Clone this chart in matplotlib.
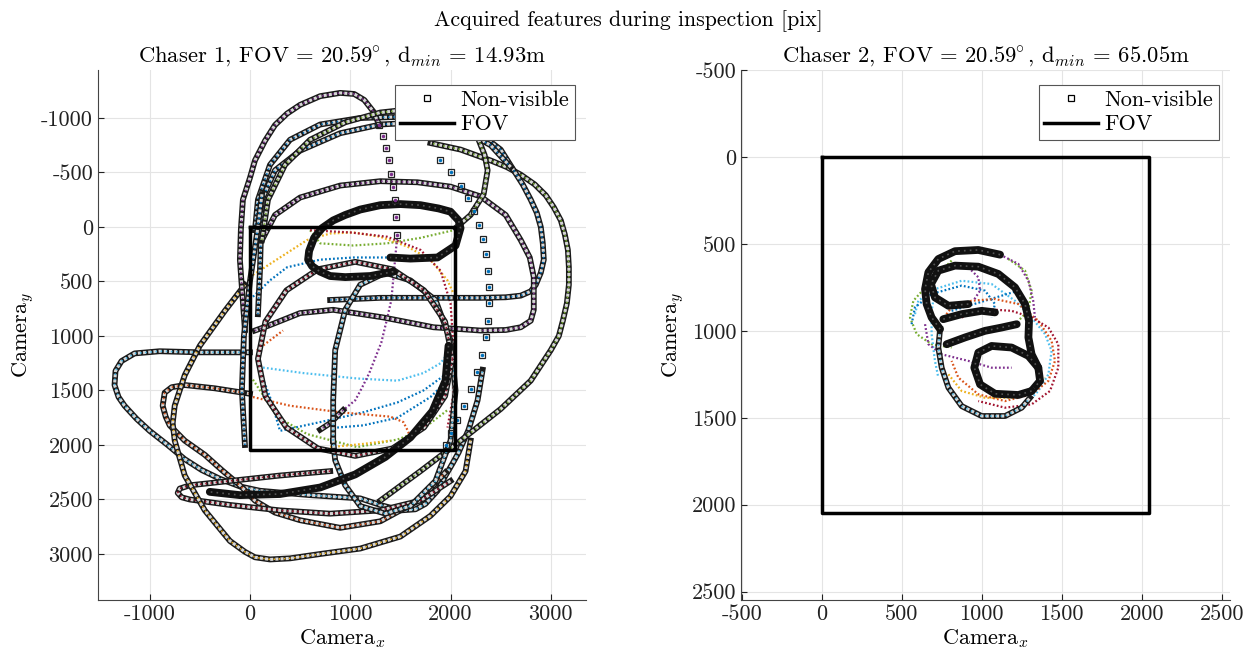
import numpy as np
import matplotlib.pyplot as plt
from matplotlib.lines import Line2D
from matplotlib.ticker import FuncFormatter

plt.rcParams['font.family'] = 'cmr10'
plt.rcParams['mathtext.fontset'] = 'cm'
plt.rcParams['axes.unicode_minus'] = False

# matlab default colour order
blue = '#0072BD'
orange = '#D95319'
yellow = '#EDB120'
purple = '#7E2F8E'
green = '#77AC30'
lblue = '#4DBEEE'
red = '#A2142F'

# camera frame (pixels)
fov_x = [0, 2048, 2048, 0, 0]
fov_y = [0, 0, 2048, 2048, 0]

# ---------------- chaser 1: non-visible tracks ----------------
c1_lblue_x = [0, -500, -900, -1150, -1280, -1340, -1350, -1310, -1250, -1130, -1000, -820, -650, -480, -300, -100, 100, 350, 600, 850, 1100, 1300, 1500, 1650, 1750, 1870, 1950, 2020, 2080, 2180, 2270, 2320]
c1_lblue_y = [1150, 1150, 1140, 1160, 1230, 1320, 1450, 1560, 1640, 1760, 1870, 2000, 2130, 2230, 2310, 2380, 2420, 2440, 2460, 2475, 2490, 2550, 2600, 2590, 2540, 2420, 2280, 2170, 2070, 1860, 1590, 1310]

c1_orange_x = [0, -350, -650, -780, -850, -870, -840, -800, -650, -450, -280, -100, 50, 250, 500, 900, 1300, 1700, 1950]
c1_orange_y = [1530, 1480, 1450, 1470, 1520, 1640, 1740, 1820, 1960, 2090, 2230, 2370, 2510, 2620, 2690, 2760, 2700, 2500, 2250]

c1_red_x = [800, 300, -200, -600, -700, -720, -680, -600, -200, 300, 800, 1300, 1700, 2000]
c1_red_y = [2240, 2280, 2330, 2370, 2400, 2440, 2480, 2500, 2550, 2600, 2630, 2600, 2510, 2330]

c1_yellow_x = [-50, -250, -500, -650, -750, -770, -750, -650, -450, -200, -50, 50, 200, 400, 700, 1100, 1500, 1800, 2000, 2150, 2200]
c1_yellow_y = [530, 770, 1090, 1360, 1640, 1800, 1960, 2280, 2600, 2880, 2980, 3030, 3050, 3040, 3000, 2950, 2840, 2650, 2470, 2240, 1960]

c1_green_x = [1300, 1700, 2100, 2500, 2800, 3000, 3080, 3120, 3160, 3180, 3180, 3170, 3140, 3100, 3030, 2950, 2840, 2700, 2560, 2400, 2100, 1800]
c1_green_y = [2510, 2240, 1960, 1670, 1410, 1130, 1000, 860, 700, 530, 370, 210, 70, -60, -180, -290, -390, -480, -550, -610, -710, -770]

c1_lblue2_x = [800, 1300, 1800, 2300, 2550, 2700, 2800, 2850, 2900, 2930, 2920, 2900, 2860, 2800, 2720, 2630, 2500, 2330, 2100, 1830, 1500, 1100, 700, 400, 200, 80, 50]
c1_lblue2_y = [670, 650, 650, 650, 645, 630, 590, 530, 420, 300, 150, 0, -130, -250, -390, -520, -710, -830, -920, -980, -1010, -1000, -940, -800, -570, -250, 30]

c1_blue2_x = [80, 100, 120, 250, 500, 900, 1300, 1700, 2100, 2400, 2600]
c1_blue2_y = [800, 400, -250, -520, -700, -860, -940, -960, -900, -750, -550]

c1_purple_x = [-50, -100, -90, -70, 0, 50, 150, 250, 370, 500, 700, 900, 1040, 1140, 1230, 1290]
c1_purple_y = [945, 300, 20, -250, -450, -610, -790, -935, -1040, -1120, -1200, -1230, -1220, -1165, -1060, -935]
c1_purple_sp_x = [1290, 1330, 1360, 1390, 1410, 1430, 1450, 1460, 1470]
c1_purple_sp_y = [-935, -830, -720, -610, -490, -370, -250, -90, 70]
c1_purple_vis_x = [1470, 1440, 1410, 1360, 1310, 1250, 1190, 1120, 1050, 930]
c1_purple_vis_y = [70, 370, 670, 870, 1060, 1200, 1340, 1470, 1590, 1680]
c1_purple2_x = [930, 800, 700]
c1_purple2_y = [1680, 1800, 1860]

c1_purple3_x = [50, 200, 500, 830, 1330, 1830, 2300, 2550, 2700, 2800, 2830, 2830, 2790, 2700, 2550, 2300, 2000, 1670, 1300, 900, 500, 250, 120]
c1_purple3_y = [950, 900, 790, 760, 830, 920, 950, 945, 920, 860, 760, 460, 280, 120, -110, -280, -370, -410, -420, -380, -270, -110, 120]

c1_green2_x = [120, 180, 350, 600, 950, 1300, 1700, 2050, 2200, 2280, 2340, 2370, 2330, 2200, 2050]
c1_green2_y = [120, -250, -570, -800, -960, -1050, -1090, -1030, -930, -800, -660, -520, -300, -110, 10]

c1_blue_sp_x = [1900, 2000, 2100, 2170, 2230, 2280, 2320, 2350, 2370, 2380, 2380, 2370, 2350, 2310, 2260, 2200, 2130, 2060, 2000, 1950]
c1_blue_sp_y = [-610, -500, -380, -270, -150, -20, 110, 250, 400, 550, 700, 860, 1010, 1170, 1330, 1490, 1640, 1770, 1890, 2000]

c1_loop_x = [1430, 1200, 950, 800, 700, 620, 580, 590, 640, 720, 830, 950, 1100, 1300, 1500, 1700, 1880, 2000, 2080, 2100, 2050, 1870, 1600, 1400]
c1_loop_y = [410, 450, 460, 450, 410, 360, 300, 220, 100, 10, -60, -110, -160, -200, -210, -200, -170, -140, -60, 10, 170, 280, 290, 280]

c1_circ_x = [2020, 1946, 1736, 1421, 1050, 679, 364, 154, 80, 154, 364, 679, 1050, 1421, 1736, 1946, 2020]
c1_circ_y = [1210, 869, 581, 388, 320, 388, 581, 869, 1210, 1551, 1839, 2032, 2100, 2032, 1839, 1551, 1210]

c1_ell_x = [830, 830, 850, 950, 1100, 1350, 1600, 1850, 2000, 2050, 2000, 1850, 1600, 1350, 1100, 950, 850, 830]
c1_ell_y = [1960, 1590, 1130, 760, 530, 420, 490, 670, 1040, 1500, 1960, 2330, 2560, 2630, 2560, 2370, 2140, 1960]

c1_arc_x = [1980, 1950, 1820, 1600, 1350, 1050, 700, 300, -100, -400]
c1_arc_y = [1090, 1410, 1690, 1930, 2110, 2270, 2390, 2450, 2460, 2430]

c1_edge_x = [-50, -80, -60, 0, 80, 120]
c1_edge_y = [2000, 1500, 1000, 500, 0, -300]

# ---------------- chaser 1: visible tracks ----------------
c1v_green_x = [600, 700, 1030, 1370, 1700, 2030]
c1v_green_y = [30, 150, 170, 150, 100, 30]
c1v_yellow_x = [30, 300, 570, 800, 1030, 1300, 1570, 1800, 1970, 2030]
c1v_yellow_y = [440, 280, 120, 60, 50, 90, 180, 300, 490, 610]
c1v_red_x = [600, 1000, 1370, 1700, 1900, 2000, 2030, 2030, 1970]
c1v_red_y = [30, 50, 90, 210, 400, 700, 1100, 1530, 1840]
c1v_blue_x = [30, 200, 370, 700, 1030, 1400]
c1v_blue_y = [640, 490, 370, 300, 280, 280]
c1v_blue2_x = [70, 200, 300, 800, 1130, 1470, 1730, 1970]
c1v_blue2_y = [1250, 1560, 1870, 1770, 1700, 1610, 1500, 1340]
c1v_blue3_x = [870, 1130, 1470, 1800, 2000]
c1v_blue3_y = [1840, 1820, 1750, 1560, 1380]
c1v_lblue_x = [1400, 1670, 1900, 2000, 1970]
c1v_lblue_y = [420, 550, 760, 1070, 1310]
c1v_lblue2_x = [130, 530, 1070, 1470, 1730, 1900, 2000]
c1v_lblue2_y = [1290, 1340, 1390, 1410, 1340, 1250, 1130]
c1v_orange_x = [30, 400, 900, 1400, 1530, 1580, 1580]
c1v_orange_y = [1560, 1640, 1700, 1740, 1790, 1880, 1960]
c1v_orange2_x = [70, 200, 330]
c1v_orange2_y = [1130, 1040, 950]
c1v_purple_x = [100, 330, 500]
c1v_purple_y = [950, 860, 790]
c1v_green2_x = [30, 270, 570, 1070, 1470, 1700, 1970]
c1v_green2_y = [1400, 1740, 1900, 2020, 1950, 1870, 1680]
c1v_yellow2_x = [800, 1130, 1400]
c1v_yellow2_y = [2020, 1990, 1960]

# ---------------- chaser 2: non-visible tracks ----------------
c2_a_x = [1115, 979, 833, 729, 667, 646, 656, 687, 740]
c2_a_y = [562, 535, 542, 587, 663, 760, 846, 923, 990]
c2_b_x = [917, 792, 708, 683, 729, 833, 979, 1104, 1208, 1271, 1296, 1292, 1312, 1354, 1365, 1312]
c2_b_y = [846, 856, 808, 731, 654, 625, 631, 673, 750, 846, 942, 1038, 1135, 1212, 1288, 1346]
c2_c_x = [1312, 1229, 1083, 990, 954, 979, 1062, 1187, 1292, 1354]
c2_c_y = [1346, 1369, 1362, 1308, 1212, 1125, 1087, 1096, 1144, 1212]
c2_d1_x = [781, 896, 1021, 1125, 1219]
c2_d1_y = [1077, 1038, 1000, 981, 962]
c2_d2_x = [760, 875, 1000, 1083]
c2_d2_y = [933, 904, 885, 894]
c2_e_x = [740, 729, 750, 792, 875, 1000, 1146, 1250, 1302]
c2_e_y = [990, 1096, 1212, 1327, 1433, 1490, 1490, 1442, 1385]

# ---------------- chaser 2: visible tracks ----------------
c2v_green_x = [812, 667, 573, 552, 594, 687, 812]
c2v_green_y = [596, 731, 827, 923, 1019, 1077, 1096]
c2v_green2_x = [1167, 1271, 1312, 1292, 1229]
c2v_green2_y = [587, 654, 769, 885, 942]
c2v_lblue_x = [583, 604, 708, 875, 1062, 1208, 1312, 1396, 1437, 1417, 1354, 1292]
c2v_lblue_y = [904, 827, 760, 712, 731, 827, 923, 1019, 1115, 1250, 1346, 1404]
c2v_lblue2_x = [708, 687, 687, 708, 729]
c2v_lblue2_y = [769, 885, 1019, 1173, 1269]
c2v_blue_x = [562, 583, 687, 875, 1021, 1083, 1062]
c2v_blue_y = [962, 865, 788, 740, 769, 846, 923]
c2v_blue2_x = [812, 1021, 1229]
c2v_blue2_y = [885, 827, 769]
c2v_orange_x = [750, 812, 937, 1083, 1229, 1354, 1437, 1458, 1417, 1312, 1146, 979, 854, 812]
c2v_orange_y = [942, 865, 827, 817, 846, 942, 1058, 1173, 1288, 1365, 1404, 1365, 1269, 1173]
c2v_red_x = [875, 1021, 1187, 1312, 1417, 1479, 1479, 1427, 1312, 1146, 979]
c2v_red_y = [923, 875, 885, 923, 981, 1077, 1212, 1346, 1423, 1442, 1404]
c2v_yellow_x = [792, 875, 1021, 1187, 1312, 1396]
c2v_yellow_y = [1250, 1346, 1385, 1385, 1346, 1269]
c2v_purple_x = [1115, 1229, 1292, 1322, 1333]
c2v_purple_y = [562, 615, 712, 827, 923]
c2v_purple2_x = [646, 667, 750, 917, 1062, 1187]
c2v_purple2_y = [962, 1077, 1135, 1173, 1212, 1212]
c2v_purple3_x = [917, 979, 990, 948]
c2v_purple3_y = [635, 692, 769, 827]


def hidden(ax, x, y, c, dense=False):
    if dense:
        ax.plot(x, y, color='#111111', lw=5.6, solid_joinstyle='round',
                solid_capstyle='round', zorder=3)
        ax.plot(x, y, color='#555555', lw=1.2, ls=(0, (1, 2.5)), zorder=3)
        return
    ax.plot(x, y, color='#1a1a1a', lw=4.2, solid_joinstyle='round', zorder=3)
    ax.plot(x, y, color='#d6d6d6', lw=2.2, ls=(0, (1.0, 0.7)), zorder=3)
    ax.plot(x, y, color=c, lw=1.2, ls=(0, (0.9, 2.2)), zorder=3)


def sparse(ax, x, y, c):
    ax.plot(x, y, 's', ms=5, mfc='none', mec='#222222', mew=0.9, zorder=3)
    ax.plot(x, y, '.', color=c, ms=3, zorder=3)


def visible(ax, x, y, c):
    ax.plot(x, y, color=c, lw=1.6, ls=(0, (0.8, 1.0)), zorder=2)


fig = plt.figure(figsize=(12.56, 6.66), dpi=100)
ax1 = fig.add_axes([0.078, 0.0991, 0.3885, 0.7958])
ax2 = fig.add_axes([0.590, 0.0991, 0.3893, 0.7958])

visible(ax1, c1v_green_x, c1v_green_y, green)
visible(ax1, c1v_yellow_x, c1v_yellow_y, yellow)
visible(ax1, c1v_red_x, c1v_red_y, red)
visible(ax1, c1v_blue_x, c1v_blue_y, blue)
visible(ax1, c1v_blue2_x, c1v_blue2_y, blue)
visible(ax1, c1v_blue3_x, c1v_blue3_y, blue)
visible(ax1, c1v_lblue_x, c1v_lblue_y, lblue)
visible(ax1, c1v_lblue2_x, c1v_lblue2_y, lblue)
visible(ax1, c1v_orange_x, c1v_orange_y, orange)
visible(ax1, c1v_orange2_x, c1v_orange2_y, orange)
visible(ax1, c1v_purple_x, c1v_purple_y, purple)
visible(ax1, c1v_green2_x, c1v_green2_y, green)
visible(ax1, c1v_yellow2_x, c1v_yellow2_y, yellow)
visible(ax1, c1_purple_vis_x, c1_purple_vis_y, purple)

hidden(ax1, c1_lblue_x, c1_lblue_y, lblue)
hidden(ax1, c1_orange_x, c1_orange_y, orange)
hidden(ax1, c1_red_x, c1_red_y, red)
hidden(ax1, c1_yellow_x, c1_yellow_y, yellow)
hidden(ax1, c1_green_x, c1_green_y, green)
hidden(ax1, c1_lblue2_x, c1_lblue2_y, blue)
hidden(ax1, c1_blue2_x, c1_blue2_y, blue)
hidden(ax1, c1_purple_x, c1_purple_y, purple)
hidden(ax1, c1_purple2_x, c1_purple2_y, purple)
hidden(ax1, c1_purple3_x, c1_purple3_y, purple)
hidden(ax1, c1_green2_x, c1_green2_y, green)
hidden(ax1, c1_ell_x, c1_ell_y, lblue)
hidden(ax1, c1_circ_x, c1_circ_y, red)
hidden(ax1, c1_edge_x, c1_edge_y, blue)
hidden(ax1, c1_loop_x, c1_loop_y, blue, dense=True)
hidden(ax1, c1_arc_x, c1_arc_y, orange, dense=True)
sparse(ax1, c1_purple_sp_x, c1_purple_sp_y, purple)
sparse(ax1, c1_blue_sp_x, c1_blue_sp_y, blue)

visible(ax2, c2v_green_x, c2v_green_y, green)
visible(ax2, c2v_green2_x, c2v_green2_y, green)
visible(ax2, c2v_lblue_x, c2v_lblue_y, lblue)
visible(ax2, c2v_lblue2_x, c2v_lblue2_y, lblue)
visible(ax2, c2v_blue_x, c2v_blue_y, blue)
visible(ax2, c2v_blue2_x, c2v_blue2_y, blue)
visible(ax2, c2v_orange_x, c2v_orange_y, orange)
visible(ax2, c2v_red_x, c2v_red_y, red)
visible(ax2, c2v_yellow_x, c2v_yellow_y, yellow)
visible(ax2, c2v_purple_x, c2v_purple_y, purple)
visible(ax2, c2v_purple2_x, c2v_purple2_y, purple)
visible(ax2, c2v_purple3_x, c2v_purple3_y, purple)
hidden(ax2, c2_e_x, c2_e_y, lblue)
hidden(ax2, c2_a_x, c2_a_y, green, dense=True)
hidden(ax2, c2_b_x, c2_b_y, blue, dense=True)
hidden(ax2, c2_c_x, c2_c_y, red, dense=True)
hidden(ax2, c2_d1_x, c2_d1_y, purple, dense=True)
hidden(ax2, c2_d2_x, c2_d2_y, orange, dense=True)

handles = [Line2D([], [], ls='none', marker='s', ms=5, mfc='none', mec='k', mew=0.9, label='Non-visible'),
           Line2D([], [], color='k', lw=2.5, label='FOV')]

fmt = FuncFormatter(lambda v, p: '%d' % v)

for ax, t in [(ax1, r'Chaser 1, FOV = $20.59^{\!\!\circ}$, d$_{min}$ = 14.93m'),
              (ax2, r'Chaser 2, FOV = $20.59^{\!\!\circ}$, d$_{min}$ = 65.05m')]:
    ax.plot(fov_x, fov_y, color='k', lw=2.5, zorder=4)
    ax.set_title(t, fontsize=16.3, pad=6)
    ax.set_xlabel(r'Camera$_x$', fontsize=16, labelpad=2)
    ax.set_ylabel(r'Camera$_y$', fontsize=16, labelpad=4)
    ax.grid(True, color='#e4e4e4', lw=0.8)
    ax.set_axisbelow(True)
    ax.spines['top'].set_visible(False)
    ax.spines['right'].set_visible(False)
    ax.spines['left'].set_color('#444444')
    ax.spines['bottom'].set_color('#444444')
    ax.tick_params(direction='in', length=4, labelsize=16, colors='#222222')
    ax.xaxis.set_major_formatter(fmt)
    ax.yaxis.set_major_formatter(fmt)
    leg = ax.legend(handles=handles, loc='upper right', bbox_to_anchor=(0.977, 0.972),
                    fontsize=16, fancybox=False, edgecolor='#555555', framealpha=1,
                    borderpad=0.25, labelspacing=0.22, handlelength=2.4, handletextpad=0.3,
                    borderaxespad=0)
    leg.get_frame().set_linewidth(0.8)

ax1.set_xlim(-1515, 3350)
ax1.set_ylim(3422, -1440)
ax1.set_xticks([-1000, 0, 1000, 2000, 3000])
ax1.set_yticks(np.arange(-1000, 3001, 500))

ax2.set_xlim(-504, 2552)
ax2.set_ylim(2548, -500)
ax2.set_xticks(np.arange(-500, 2501, 500))
ax2.set_yticks(np.arange(-500, 2501, 500))

fig.suptitle('Acquired features during inspection [pix]', fontsize=15.7, y=0.985)

fig.savefig('out.png', dpi=100)
